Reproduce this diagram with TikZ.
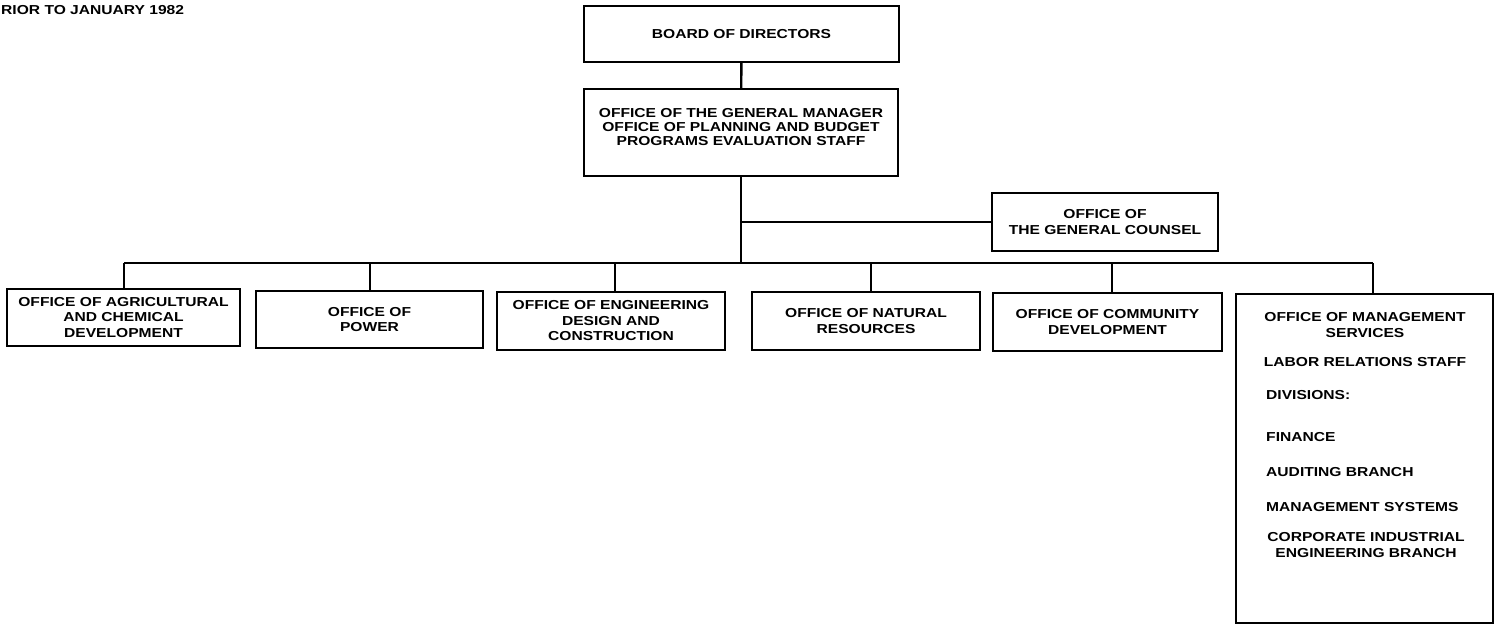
\documentclass[tikz,border=0pt]{standalone}
\usepackage{fontspec}
\usetikzlibrary{positioning}
\newfontfamily\chartfont{Liberation Sans}[FakeStretch=1.2]

\begin{document}
\begin{tikzpicture}[x=1pt, y=-1pt, line width=2.4pt,
    office/.style={rectangle, draw, line width=2.2pt, inner sep=0pt,
                   align=center, font=\chartfont\bfseries\fontsize{13}{15.5}\selectfont},
    txt/.style={align=center, inner sep=0pt, font=\chartfont\bfseries\fontsize{13}{15.5}\selectfont}]
    \useasboundingbox (0,0) rectangle (1495,629);

    % Title
    \node[txt, anchor=west] (title) at (0,10) {RIOR TO JANUARY 1982};

    % Boxes
    \node[office, minimum width=315, minimum height=56] (board) at (741.5,34) {BOARD OF DIRECTORS};
    \node[office, minimum width=314, minimum height=87,
          font=\chartfont\bfseries\fontsize{13}{14}\selectfont] (gm) at (741,132.5)
          {\raisebox{1pt}[0pt][0pt]{\begin{tabular}{@{}c@{}}OFFICE OF THE GENERAL MANAGER\\OFFICE OF PLANNING AND BUDGET\\PROGRAMS EVALUATION STAFF\end{tabular}}};
    \node[office, minimum width=226, minimum height=58] (counsel) at (1105,222) {OFFICE OF\\THE GENERAL COUNSEL};

    \node[office, minimum width=233, minimum height=57] (agri) at (123.5,317.5) {OFFICE OF AGRICULTURAL\\AND CHEMICAL\\DEVELOPMENT};
    \node[office, minimum width=227, minimum height=57] (power) at (369.5,319.5) {OFFICE OF\\POWER};
    \node[office, minimum width=228, minimum height=58] (eng) at (611,321) {OFFICE OF ENGINEERING\\DESIGN AND\\CONSTRUCTION};
    \node[office, minimum width=228, minimum height=58] (natural) at (866,321) {OFFICE OF NATURAL\\RESOURCES};
    \node[office, minimum width=229, minimum height=58] (community) at (1107.5,322) {OFFICE OF COMMUNITY\\DEVELOPMENT};
    \node[office, minimum width=257, minimum height=329, anchor=north] (mgmt) at (1364.5,293) {};

    % Management services contents
    \node[txt] (mgmthead) at (1365,325) {OFFICE OF MANAGEMENT\\SERVICES};
    \node[txt] (labor) at (1365,362) {LABOR RELATIONS STAFF};
    \node[txt, anchor=west] (divisions) at (1265,395) {DIVISIONS:};
    \node[txt, anchor=west] (finance) at (1265,437) {FINANCE};
    \node[txt, anchor=west] (auditing) at (1265,472) {AUDITING BRANCH};
    \node[txt, anchor=west] (systems) at (1265,507) {MANAGEMENT SYSTEMS};
    \node[txt] (corporate) at (1366,545) {CORPORATE INDUSTRIAL\\ENGINEERING BRANCH};

    % Bus points
    \coordinate (busA) at (124,263);
    \coordinate (busB) at (370,263);
    \coordinate (busC) at (615,263);
    \coordinate (busD) at (871,263);
    \coordinate (busE) at (1112,263);
    \coordinate (busF) at (1373,263);

    % Lines
    \draw (board) -- (gm);
    \draw (gm.south) -- (gm.south |- busA);
    \draw (gm.south |- counsel.west) -- (counsel.west);
    \draw (busA) -- (busF);
    \draw (busA) -- (busA |- agri.north);
    \draw (busB) -- (busB |- power.north);
    \draw (busC) -- (busC |- eng.north);
    \draw (busD) -- (busD |- natural.north);
    \draw (busE) -- (busE |- community.north);
    \draw (busF) -- (busF |- mgmt.north);
\end{tikzpicture}
\end{document}
